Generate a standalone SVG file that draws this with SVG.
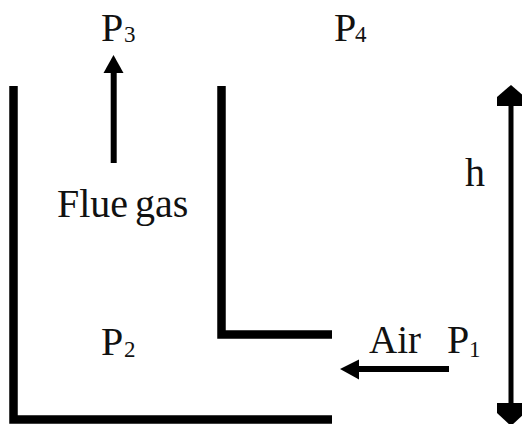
<svg xmlns="http://www.w3.org/2000/svg" width="522" height="424" viewBox="0 0 522 424">
<style>
.w{fill:none;stroke:#000;stroke-width:8.5}
.a{fill:none;stroke:#000;stroke-width:6}
.b{fill:none;stroke:#000;stroke-width:5}
.h{fill:#000;stroke:none}
text{font-family:"Liberation Serif","DejaVu Serif",serif;fill:#111}
.l{font-size:40px}
.s{font-size:23px}
</style>
<rect width="522" height="424" fill="#fff"/>
<g id="walls">
<path class="w" d="M13.5 86V419.500H332"/>
<path class="w" d="M221.500 86V334.500H332"/>
</g>
<g id="connectors">
<path class="a" d="M113.700 163V72"/><polygon class="h" points="113.500,55 123.500,73 103.500,73"/>
<path class="a" d="M449 369H358"/><polygon class="h" points="340,369 359,359.500 359,379.500"/>
<path class="b" d="M511 100V410"/><polygon class="h" points="511,85 525,97 525,106 497,106 497,97"/><polygon class="h" points="511,426 497,413 497,403 525,403 525,413"/>
</g>
<g id="p3"><text class="l" x="101" y="41">P</text><text class="s" x="124" y="42">3</text></g>
<g id="p4"><text class="l" x="334" y="41">P</text><text class="s" x="355" y="42">4</text></g>
<g id="h"><text class="l" x="465" y="186">h</text></g>
<g id="flue-gas"><text class="l" x="57" y="217">Flue<tspan x="135">gas</tspan></text></g>
<g id="p2"><text class="l" x="101" y="355">P</text><text class="s" x="124" y="357">2</text></g>
<g id="air"><text class="l" x="369" y="353" textLength="52" lengthAdjust="spacingAndGlyphs">Air</text></g>
<g id="p1"><text class="l" x="447" y="353">P</text><text class="s" x="469" y="357">1</text></g>
</svg>
